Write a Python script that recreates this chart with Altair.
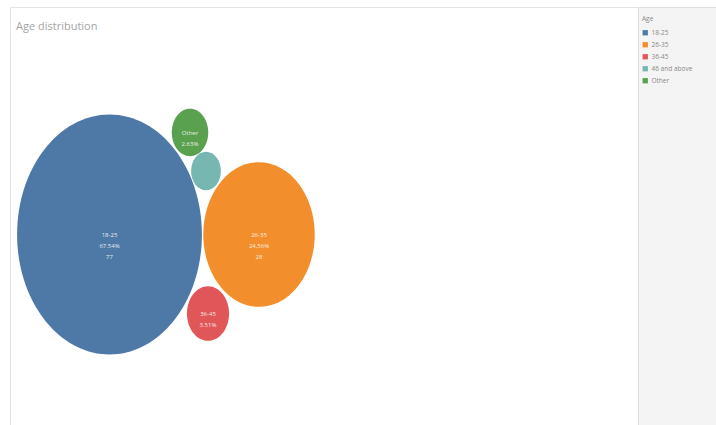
import altair as alt
import pandas as pd

# ---- data ----
ages = ["18-25", "26-35", "36-45", "46 and above", "Other"]
counts = [77, 28, 4, 2, 3]
colors = ["#4e79a7", "#f28e2b", "#e15759", "#76b7b2", "#59a14f"]
# packed-bubble centre positions (layout units, 0..716 x 0..425, y downward)
pos_x = [109.5, 259.0, 208.0, 206.0, 190.0]
pos_y = [234.5, 234.5, 313.5, 171.0, 132.5]
# which label lines Tableau shows inside each bubble
show_lines = [3, 3, 2, 0, 2]

total = sum(counts)
pcts = [c / total * 100 for c in counts]
labels = []
for a, c, p, n in zip(ages, counts, pcts, show_lines):
    lines = [a, f"{p:.2f}%", str(c)][:n]
    labels.append("\n".join(lines))

df = pd.DataFrame({
    "age": ages,
    "count": counts,
    "px": pos_x,
    "py": pos_y,
    "label": labels,
})

W, H = 716, 425
xs = alt.Scale(domain=[0, W], range=[0, W])
ys = alt.Scale(domain=[0, H], range=[0, H])

one = alt.Data(values=[{"k": 1}])

frame = alt.Chart(one).mark_rect(fill="white", stroke="#e3e3e3", strokeWidth=1).encode(
    x=alt.value(10.5), x2=alt.value(740), y=alt.value(7.5), y2=alt.value(440)
)
panel = alt.Chart(one).mark_rect(fill="#f4f4f4", stroke="#dedede", strokeWidth=1).encode(
    x=alt.value(638.5), x2=alt.value(740), y=alt.value(7.5), y2=alt.value(440)
)
title = alt.Chart(one).mark_text(
    text="Age distribution", align="left", baseline="middle",
    fontSize=11, font="Open Sans", color="#a5a5a5"
).encode(x=alt.value(16), y=alt.value(27))

ellipse = "M-0.77,0A0.77,1,0,1,0,0.77,0A0.77,1,0,1,0,-0.77,0Z"

bubbles = alt.Chart(df).mark_point(filled=True, shape=ellipse, opacity=1, strokeWidth=0).encode(
    x=alt.X("px:Q", scale=xs, axis=None),
    y=alt.Y("py:Q", scale=ys, axis=None),
    size=alt.Size("count:Q", scale=alt.Scale(domain=[0, 77], range=[0, 57600], zero=True), legend=None),
    color=alt.Color(
        "age:N",
        scale=alt.Scale(domain=ages, range=colors),
        legend=alt.Legend(
            title="Age", orient="none", legendX=642, legendY=16,
            symbolType="square", symbolSize=28, symbolStrokeWidth=0,
            labelFontSize=6.5, titleFontSize=6.5, titleFontWeight="normal",
            titleColor="#8a8a8a", labelColor="#8a8a8a", labelFont="Open Sans",
            titleFont="Open Sans", rowPadding=5, titlePadding=7, padding=0,
            labelOffset=3,
        ),
    ),
)

text = alt.Chart(df).mark_text(
    lineBreak="\n", fontSize=6, lineHeight=11, color="white", opacity=0.85,
    font="Open Sans", align="center", baseline="middle"
).encode(
    x=alt.X("px:Q", scale=xs, axis=None),
    y=alt.Y("py:Q", scale=ys, axis=None),
    text="label:N",
)

chart = alt.layer(frame, panel, title, bubbles, text).properties(
    width=W, height=H, padding=0, autosize=alt.AutoSizeParams(type="none"),
    background="white",
).configure_view(stroke=None)

chart.save("out.html", embed_options={"renderer": "svg", "actions": False})
